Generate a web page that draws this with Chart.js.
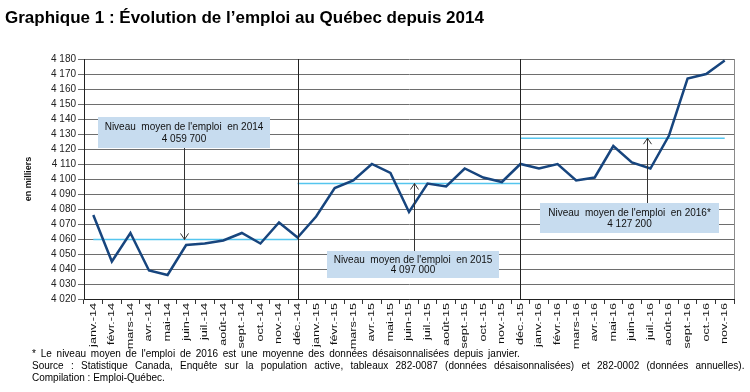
<!DOCTYPE html>
<html><head><meta charset="utf-8">
<script src="https://cdn.jsdelivr.net/npm/chart.js@4/dist/chart.umd.min.js"></script>
<style>
body{margin:0;width:750px;height:392px;overflow:hidden;background:#fff;font-family:'Liberation Sans',Arial,sans-serif;}
#wrap{position:relative;width:750px;height:392px;}
canvas{position:absolute;left:0;top:0;}
#title{position:absolute;left:5px;top:8px;font-weight:bold;font-size:17px;color:#000;white-space:nowrap;}
#notes{position:absolute;left:32px;top:348px;font-size:10px;line-height:12px;color:#000;white-space:nowrap;}
#n1{word-spacing:2px;} #n2{word-spacing:4.5px;}
</style></head>
<body>
<div id="wrap">
<canvas id="c" width="750" height="392"></canvas>
<div id="title">Graphique 1 : Évolution de l’emploi au Québec depuis 2014</div>
<div id="notes"><span id="n1">* Le niveau moyen de l'emploi de 2016 est une moyenne des données désaisonnalisées depuis janvier.</span><br><span id="n2">Source : Statistique Canada, Enquête sur la population active, tableaux 282-0087 (données désaisonnalisées) et 282-0002 (données annuelles).</span><br><span>Compilation : Emploi-Québec.</span></div>
</div>
<script>
const months = ['janv.-14','févr.-14','mars-14','avr.-14','mai-14','juin-14','juil.-14','août-14','sept.-14','oct.-14','nov.-14','déc.-14',
  'janv.-15','févr.-15','mars-15','avr.-15','mai-15','juin-15','juil.-15','août-15','sept.-15','oct.-15','nov.-15','déc.-15',
  'janv.-16','févr.-16','mars-16','avr.-16','mai-16','juin-16','juil.-16','août-16','sept.-16','oct.-16','nov.-16'];
const emploi2014 = [4076, 4045, 4064, 4039, 4036, 4056, 4057, 4059, 4064, 4057, 4071, 4061];
const emploi2015 = [4075, 4094, 4099, 4110, 4104, 4078, 4097, 4095, 4107, 4101, 4098, 4110];
const emploi2016 = [4107, 4110, 4099, 4101, 4122, 4111, 4107, 4129, 4167, 4170, 4179];
const moyennes = [4059.7, 4097.0, 4127.2];
const moyenneLabels = ['4 059 700', '4 097 000', '4 127 200'];
const yMin = 4020, yMax = 4180, yStep = 10;

const emploi = emploi2014.concat(emploi2015, emploi2016);
function avgSeries(from, to, v){ return months.map((m,i)=> (i>=from && i<=to) ? v : null); }
const avg14 = avgSeries(0, 11, moyennes[0]);
const avg15 = avgSeries(11, 23, moyennes[1]);
const avg16 = avgSeries(23, 34, moyennes[2]);

const fmt = v => String(v).replace(/\B(?=(\d{3})+(?!\d))/g, ' ');
const FONT = "'Liberation Sans', Arial, sans-serif";

const annot = {
  id:'annot',
  afterDraw(chart){
    const {ctx, chartArea:a, scales:{x,y}} = chart;
    ctx.save();
    ctx.fillStyle = '#111';
    ctx.font = "9px " + FONT;
    ctx.textAlign = 'right'; ctx.textBaseline = 'middle';
    months.forEach((m,i)=>{
      const px = x.getPixelForValue(i);
      ctx.save();
      ctx.translate(px, a.bottom + 4);
      ctx.rotate(-Math.PI/2);
      ctx.scale(1.4, 1);
      ctx.fillText(m, 0, 0);
      ctx.restore();
    });
    ctx.restore();
  },
  afterDatasetsDraw(chart){
    const {ctx, chartArea:a, scales:{x,y}} = chart;
    ctx.save();
    ctx.strokeStyle = '#222'; ctx.lineWidth = 1;
    [11, 23].forEach(i=>{
      const px = Math.round(x.getPixelForValue(i)) + 0.5;
      ctx.beginPath(); ctx.moveTo(px, a.top); ctx.lineTo(px, a.bottom); ctx.stroke();
    });
    ctx.strokeStyle = '#8a8a8a';
    ctx.beginPath(); ctx.moveTo(Math.round(a.right)+0.5, a.top); ctx.lineTo(Math.round(a.right)+0.5, a.bottom); ctx.stroke();

    const boxes = [
      {x0:98, x1:270, y0:117, y1:148, ax:184, up:false, text:"Niveau  moyen de l'emploi  en 2014", val:moyennes[0], lab:moyenneLabels[0]},
      {x0:327, x1:499, y0:251, y1:278, ax:414, up:true, text:"Niveau  moyen de l'emploi  en 2015", val:moyennes[1], lab:moyenneLabels[1]},
      {x0:540, x1:719, y0:203, y1:233, ax:647, up:true, text:"Niveau  moyen de l'emploi  en 2016*", val:moyennes[2], lab:moyenneLabels[2]}
    ];
    boxes.forEach(b=>{
      const tipY = y.getPixelForValue(b.val);
      const startY = b.up ? b.y0 : b.y1;
      ctx.strokeStyle = '#333'; ctx.lineWidth = 1;
      const ax = b.ax + 0.5;
      ctx.beginPath(); ctx.moveTo(ax, startY); ctx.lineTo(ax, tipY); ctx.stroke();
      const d = b.up ? 1 : -1;
      ctx.beginPath(); ctx.moveTo(ax-4, tipY + d*6); ctx.lineTo(ax, tipY); ctx.lineTo(ax+4, tipY + d*6); ctx.stroke();
      ctx.fillStyle = '#c7dcef';
      ctx.fillRect(b.x0, b.y0, b.x1-b.x0, b.y1-b.y0);
      ctx.fillStyle = '#111';
      ctx.font = "10px " + FONT;
      ctx.textAlign = 'center'; ctx.textBaseline = 'middle';
      const cx = (b.x0+b.x1)/2, h = b.y1-b.y0;
      ctx.fillText(b.text, cx, b.y0 + h*0.33);
      ctx.fillText(b.lab, cx, b.y0 + h*0.72);
    });
    ctx.restore();
  }
};

new Chart(document.getElementById('c'), {
  type:'line',
  data:{labels:months, datasets:[
    {data:emploi, borderColor:'#17457e', borderWidth:2.5, pointRadius:0, tension:0},
    {data:avg14, borderColor:'#55c5ee', borderWidth:1.5, pointRadius:0},
    {data:avg15, borderColor:'#55c5ee', borderWidth:1.5, pointRadius:0},
    {data:avg16, borderColor:'#55c5ee', borderWidth:1.5, pointRadius:0}
  ]},
  options:{
    responsive:false, animation:false, devicePixelRatio:1,
    layout:{padding:{left:23, top:59, right:16, bottom:45}},
    plugins:{legend:{display:false}, tooltip:{enabled:false}},
    scales:{
      x:{offset:true,
        grid:{drawOnChartArea:false, offset:true, tickLength:5, color:'#333'},
        border:{color:'#222'},
        ticks:{autoSkip:false, minRotation:90, maxRotation:90, color:'rgba(0,0,0,0)', font:{size:10, family:FONT}},
        afterFit(s){ s.height = 48; }
      },
      y:{min:yMin, max:yMax,
        ticks:{stepSize:yStep, callback:v=>fmt(v), font:{size:10, family:FONT}, color:'#222', padding:2},
        grid:{color:'#6e6e6e', tickLength:6},
        border:{color:'#222'},
        title:{display:true, text:'en milliers', font:{size:9, weight:'bold', family:FONT}, color:'#111', padding:{top:0,bottom:0}},
        afterFit(s){ s.width = 61; }
      }
    }
  },
  plugins:[annot]
});
</script>
</body></html>
